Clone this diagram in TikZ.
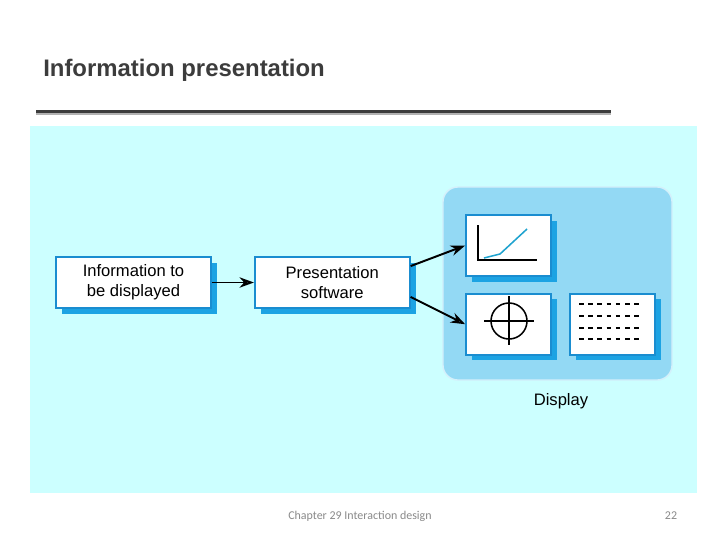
\documentclass[tikz,border=0pt]{standalone}
\usepackage{fontspec}
\setmainfont{Liberation Sans}
\newfontfamily\footfont{Carlito}
\definecolor{SlideCyan}{HTML}{CCFFFF}
\definecolor{PanelBlue}{HTML}{93D9F4}
\definecolor{BoxEdge}{HTML}{1A8DD0}
\definecolor{ShadowBlue}{HTML}{1CA3E3}
\definecolor{TitleGrey}{HTML}{3C3C3C}
\definecolor{FootGrey}{HTML}{8A8A8A}
\definecolor{CurveCyan}{HTML}{1FA3CF}
\usetikzlibrary{arrows.meta, positioning, shadows}

\begin{document}
\begin{tikzpicture}[
      x=0.025cm, y=-0.025cm,
      node distance=1.05cm and 1.05cm,
      box/.style={draw=BoxEdge, line width=1.2pt, fill=white,
        minimum width=3.875cm, minimum height=1.275cm, align=center,
        font=\fontsize{11.8}{14.5}\selectfont,
        general shadow={fill=ShadowBlue, shadow xshift=0.16cm, shadow yshift=-0.14cm}},
      screen/.style={box, minimum width=2.125cm, minimum height=1.525cm},
      panel/.style={draw=white!60!PanelBlue, line width=1pt, fill=PanelBlue,
        rounded corners=0.375cm, minimum width=5.725cm, minimum height=4.825cm},
      arr/.style={-{Stealth[length=3.6mm, width=2.6mm]}, line width=1.4pt},
      oarr/.style={-{Stealth[open, length=3.6mm, width=2.6mm]}, line width=1.4pt}
    ]
      \fill[white] (0,0) rectangle (720,540);
      \useasboundingbox (0,0) rectangle (720,540);
      \node[anchor=base west, inner sep=0, text=TitleGrey,
        font=\bfseries\fontsize{17}{20}\selectfont] (title) at (43,76) {Information presentation};
      \fill[black!30] (36,112) rectangle (611,115);
      \fill[TitleGrey] (36,109.5) rectangle (611,112.5);
      \fill[SlideCyan] (30,126) rectangle (697,493);
      % input and software
      \node[box] (info) at (133.5,282.5) {Information to\\be displayed};
      \node[box, right=of info] (pres) {Presentation\\software};
      % display
      \node[panel] (display) at (557.5,283.5) {};
      \node[screen] (graph) at (508.5,245.5) {};
      \node[screen, below=0.4cm of graph] (target) {};
      \node[screen, right=0.425cm of target] (table) {};
      \node[font=\fontsize{11.8}{14.5}\selectfont] (displaylbl) at (561,401) {Display};
      % screen contents
      \draw[line width=1.1pt] (478,225) -- (478,260) -- (537,260);
      \draw[CurveCyan, line width=1.1pt] (484,258) -- (500,254) -- (527,229);
      \draw[line width=1.1pt] (509,321) circle[radius=0.45cm];
      \draw[line width=1.1pt] (484,321) -- (534,321);
      \draw[line width=1.1pt] (509,296) -- (509,345);
      \foreach \y in {304,316,328,339}
        \draw[line width=1.6pt, dash pattern=on 3.2pt off 3.35pt] (579,\y) -- (639,\y);
      % connectors
      \draw[oarr] (info) -- (pres);
      \draw[arr] ([yshift=0.41cm]pres.east) -- (graph.west);
      \draw[oarr] ([yshift=-0.36cm]pres.east) -- (target.west);
      % footer
      \node[anchor=base west, inner sep=0, text=FootGrey,
        font=\footfont\fontsize{8.5}{10}\selectfont] (foot) at (288,519) {Chapter 29 Interaction design};
      \node[anchor=base, inner sep=0, text=FootGrey,
        font=\footfont\fontsize{8.5}{10}\selectfont] (pageno) at (671,519) {22};
    \end{tikzpicture}
\end{document}
